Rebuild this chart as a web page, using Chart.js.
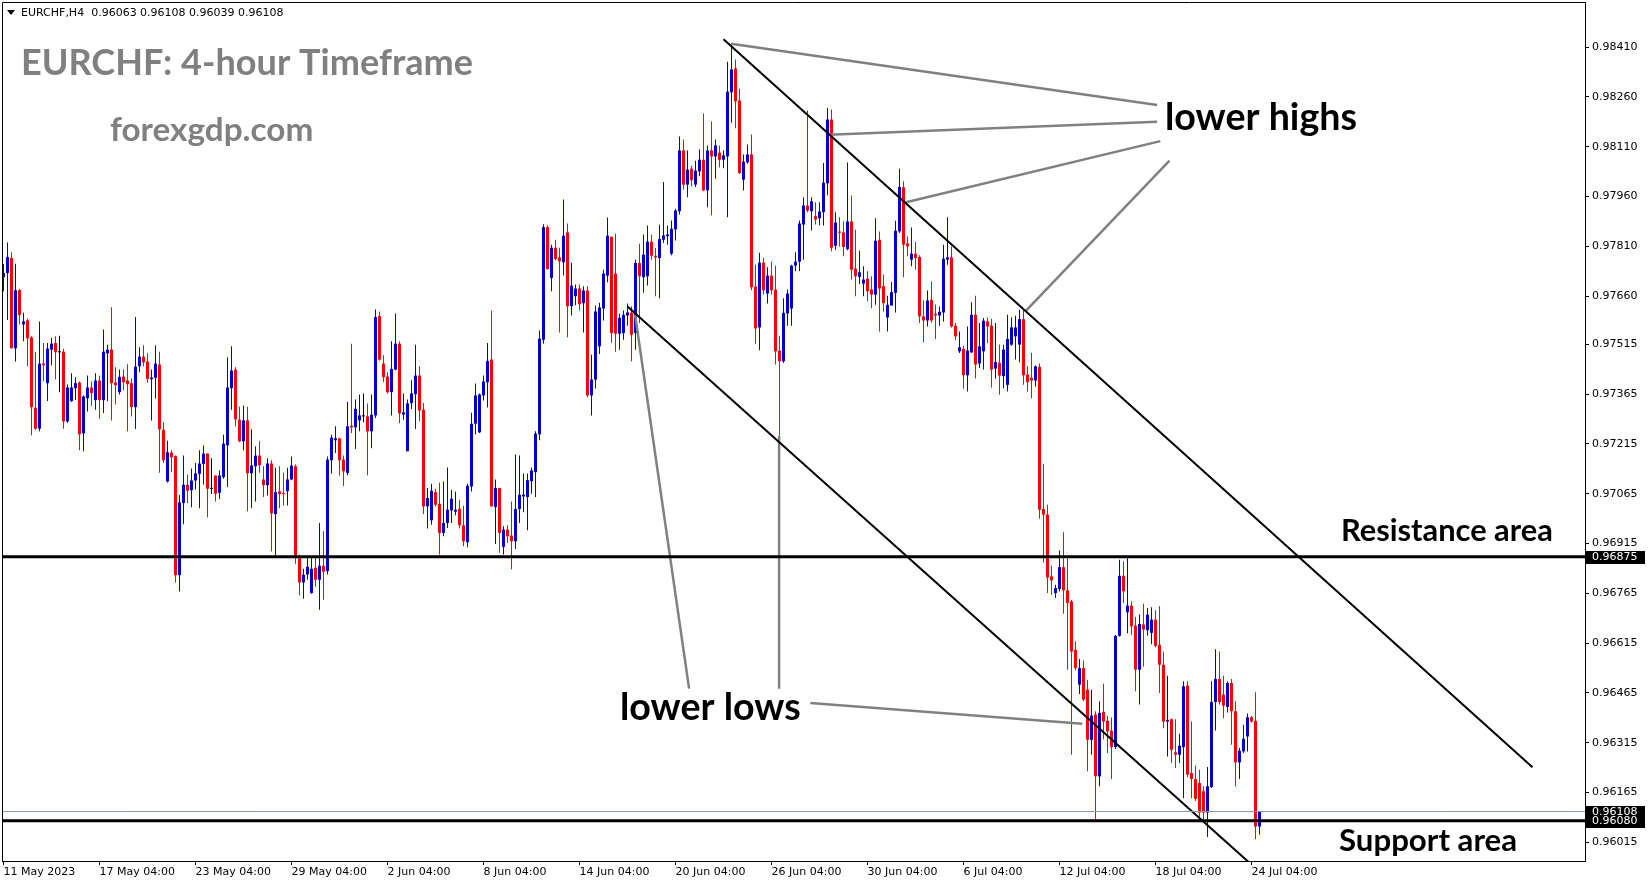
<!DOCTYPE html>
<html lang="en">
<head>
<meta charset="UTF-8">
<title>EURCHF H4</title>
<script src="https://cdn.jsdelivr.net/npm/chart.js"></script>
<style>
  html, body { margin: 0; padding: 0; background: #fff; }
  canvas { display: block; }
</style>
</head>
<body>
<canvas id="eurchf" width="1649" height="884"></canvas>
<script>
// H4 candles, one per bar index (bar 0 = 11 May 2023 04:00)
const opens = [
  0.97717,0.97730,0.97775,0.97503,0.97678,0.97575,0.97587,0.97536,0.97324,0.97261,
  0.97457,0.97398,0.97499,0.97519,0.97491,0.97493,0.97283,0.97344,0.97383,0.97400,
  0.97247,0.97353,0.97385,0.97347,0.97406,0.97347,0.97488,0.97499,0.97400,0.97371,
  0.97418,0.97406,0.97398,0.97326,0.97449,0.97478,0.97463,0.97410,0.97414,0.97454,
  0.97258,0.97102,0.97189,0.97178,0.96820,0.97037,0.97092,0.97076,0.97105,0.97125,
  0.97155,0.97186,0.97080,0.97120,0.97068,0.97115,0.97211,0.97383,0.97439,0.97288,
  0.97223,0.97286,0.97127,0.97148,0.97180,0.97108,0.97091,0.97156,0.97004,0.97072,
  0.97067,0.97073,0.97108,0.97148,0.96871,0.96798,0.96822,0.96766,0.96842,0.96806,
  0.96848,0.96832,0.97166,0.97226,0.97232,0.97168,0.97128,0.97270,0.97265,0.97286,
  0.97298,0.97298,0.97253,0.97301,0.97600,0.97457,0.97418,0.97371,0.97439,0.97517,
  0.97304,0.97193,0.97338,0.97365,0.97421,0.97318,0.97027,0.96985,0.97070,0.97035,
  0.96947,0.96977,0.97015,0.97011,0.97020,0.96970,0.96919,0.97087,0.97276,0.97250,
  0.97361,0.97401,0.97469,0.97025,0.97082,0.96905,0.96957,0.96939,0.96922,0.97019,
  0.97057,0.97055,0.97103,0.97130,0.97244,0.97529,0.97868,0.97715,0.97806,0.97777,
  0.97762,0.97852,0.97630,0.97660,0.97683,0.97639,0.97677,0.97361,0.97409,0.97509,
  0.97623,0.97722,0.97839,0.97728,0.97547,0.97549,0.97602,0.97610,0.97549,0.97760,
  0.97717,0.97720,0.97824,0.97782,0.97775,0.97830,0.97841,0.97788,0.97861,0.97916,
  0.98099,0.97996,0.98044,0.97996,0.98036,0.98071,0.97979,0.98099,0.98081,0.98092,
  0.98071,0.98081,0.98274,0.98346,0.98249,0.98011,0.98063,0.98087,0.97689,0.97566,
  0.97761,0.97668,0.97722,0.97680,0.97496,0.97464,0.97608,0.97623,0.97752,0.97764,
  0.97876,0.97933,0.97916,0.97901,0.97895,0.97913,0.98000,0.98192,0.97812,0.97855,
  0.97852,0.97802,0.97885,0.97743,0.97718,0.97698,0.97713,0.97680,0.97665,0.97830,
  0.97690,0.97596,0.97632,0.97670,0.97855,0.97988,0.97819,0.97770,0.97788,0.97778,
  0.97599,0.97587,0.97649,0.97607,0.97602,0.97611,0.97770,0.97777,0.97571,0.97494,
  0.97501,0.97422,0.97491,0.97604,0.97457,0.97494,0.97584,0.97571,0.97442,0.97459,
  0.97419,0.97393,0.97514,0.97539,0.97514,0.97591,0.97424,0.97414,0.97406,0.97447,
  0.97019,0.97002,0.96816,0.96766,0.96778,0.96844,0.96774,0.96741,0.96595,0.96490,
  0.96540,0.96475,0.96324,0.96400,0.96214,0.96408,0.96381,0.96351,0.96302,0.96637,
  0.96818,0.96708,0.96728,0.96668,0.96535,0.96671,0.96654,0.96646,0.96686,0.96610,
  0.96550,0.96379,0.96386,0.96286,0.96279,0.96302,0.96487,0.96224,0.96206,0.96194,
  0.96169,0.96105,0.96182,0.96438,0.96507,0.96460,0.96423,0.96495,0.96410,0.96256,
  0.96289,0.96334,0.96392,0.96381,0.96063
];
const highs = [
  0.97757,0.97822,0.97792,0.97758,0.97682,0.97610,0.97593,0.97539,0.97492,0.97584,
  0.97519,0.97519,0.97534,0.97539,0.97541,0.97502,0.97394,0.97428,0.97416,0.97403,
  0.97361,0.97421,0.97403,0.97428,0.97421,0.97560,0.97514,0.97627,0.97446,0.97439,
  0.97439,0.97455,0.97412,0.97597,0.97506,0.97512,0.97488,0.97439,0.97512,0.97493,
  0.97280,0.97225,0.97196,0.97180,0.97061,0.97180,0.97123,0.97141,0.97158,0.97196,
  0.97210,0.97186,0.97172,0.97120,0.97135,0.97243,0.97476,0.97509,0.97446,0.97327,
  0.97331,0.97327,0.97259,0.97207,0.97223,0.97148,0.97172,0.97166,0.97143,0.97148,
  0.97128,0.97143,0.97177,0.97153,0.96882,0.96839,0.96874,0.96874,0.96874,0.96977,
  0.96952,0.97177,0.97243,0.97268,0.97234,0.97180,0.97341,0.97517,0.97349,0.97364,
  0.97367,0.97337,0.97364,0.97620,0.97614,0.97482,0.97431,0.97524,0.97608,0.97524,
  0.97367,0.97349,0.97407,0.97514,0.97449,0.97338,0.97082,0.97095,0.97080,0.97098,
  0.97102,0.97144,0.97077,0.97071,0.97047,0.97029,0.97095,0.97309,0.97397,0.97367,
  0.97421,0.97519,0.97617,0.97108,0.97082,0.96967,0.96970,0.97042,0.97183,0.97180,
  0.97126,0.97126,0.97144,0.97253,0.97557,0.97877,0.97874,0.97815,0.97830,0.97806,
  0.97951,0.97879,0.97761,0.97695,0.97695,0.97690,0.97690,0.97484,0.97632,0.97640,
  0.97740,0.97897,0.97839,0.97848,0.97607,0.97617,0.97638,0.97630,0.97770,0.97818,
  0.97846,0.97873,0.97846,0.97805,0.97875,0.98004,0.97873,0.97888,0.97923,0.98141,
  0.98132,0.98099,0.98053,0.98068,0.98102,0.98210,0.98114,0.98186,0.98132,0.98114,
  0.98099,0.98366,0.98418,0.98373,0.98285,0.98087,0.98117,0.98147,0.97755,0.97791,
  0.97776,0.97747,0.97764,0.97752,0.97541,0.97654,0.97680,0.97755,0.97792,0.97888,
  0.97958,0.98219,0.97958,0.97943,0.97943,0.98061,0.98227,0.98222,0.97913,0.97898,
  0.97885,0.98063,0.97963,0.97860,0.97797,0.97750,0.97735,0.97720,0.97895,0.97855,
  0.97725,0.97661,0.97703,0.97887,0.98044,0.98006,0.97840,0.97867,0.97823,0.97783,
  0.97647,0.97677,0.97704,0.97634,0.97629,0.97815,0.97898,0.97810,0.97579,0.97554,
  0.97511,0.97569,0.97642,0.97661,0.97579,0.97594,0.97596,0.97591,0.97579,0.97514,
  0.97514,0.97604,0.97596,0.97601,0.97619,0.97619,0.97449,0.97489,0.97451,0.97457,
  0.97155,0.97032,0.96848,0.96791,0.96894,0.96949,0.96876,0.96745,0.96620,0.96567,
  0.96563,0.96505,0.96475,0.96410,0.96440,0.96493,0.96396,0.96391,0.96640,0.96866,
  0.96861,0.96874,0.96741,0.96694,0.96701,0.96734,0.96721,0.96723,0.96714,0.96726,
  0.96590,0.96517,0.96388,0.96386,0.96342,0.96500,0.96500,0.96379,0.96246,0.96234,
  0.96184,0.96242,0.96500,0.96597,0.96590,0.96517,0.96500,0.96507,0.96440,0.96299,
  0.96369,0.96403,0.96396,0.96467,0.96108
];
const lows = [
  0.97675,0.97588,0.97503,0.97463,0.97575,0.97524,0.97449,0.97241,0.97258,0.97253,
  0.97404,0.97344,0.97452,0.97409,0.97371,0.97261,0.97278,0.97341,0.97347,0.97196,
  0.97193,0.97313,0.97329,0.97318,0.97292,0.97308,0.97344,0.97286,0.97334,0.97364,
  0.97377,0.97253,0.97298,0.97260,0.97431,0.97449,0.97399,0.97286,0.97352,0.97128,
  0.97158,0.97099,0.97130,0.96798,0.96771,0.96973,0.97037,0.97024,0.97078,0.97021,
  0.97093,0.96994,0.97064,0.97042,0.97049,0.97110,0.97085,0.97318,0.97268,0.97220,
  0.97196,0.97012,0.97021,0.97042,0.97128,0.97055,0.97060,0.96892,0.96879,0.97021,
  0.97030,0.97030,0.97106,0.96854,0.96759,0.96749,0.96806,0.96764,0.96786,0.96716,
  0.96746,0.96822,0.97126,0.97188,0.97120,0.97088,0.97121,0.97248,0.97200,0.97253,
  0.97280,0.97121,0.97202,0.97293,0.97466,0.97401,0.97367,0.97301,0.97437,0.97278,
  0.97288,0.97193,0.97320,0.97260,0.97283,0.97004,0.96960,0.96972,0.97027,0.96882,
  0.96937,0.96962,0.96977,0.97000,0.96960,0.96907,0.96904,0.97072,0.97244,0.97248,
  0.97346,0.97325,0.97027,0.96914,0.96887,0.96882,0.96917,0.96838,0.96899,0.96977,
  0.97009,0.96955,0.97065,0.97055,0.97226,0.97517,0.97740,0.97675,0.97768,0.97551,
  0.97722,0.97536,0.97602,0.97633,0.97618,0.97551,0.97356,0.97301,0.97382,0.97486,
  0.97587,0.97702,0.97520,0.97493,0.97499,0.97529,0.97571,0.97464,0.97499,0.97579,
  0.97670,0.97692,0.97770,0.97660,0.97654,0.97820,0.97815,0.97783,0.97828,0.97906,
  0.97981,0.97958,0.97991,0.97989,0.98021,0.97976,0.97928,0.97904,0.98014,0.98048,
  0.98045,0.97898,0.98182,0.98166,0.98028,0.97978,0.98059,0.97678,0.97517,0.97497,
  0.97665,0.97638,0.97665,0.97454,0.97240,0.97459,0.97571,0.97571,0.97735,0.97735,
  0.97770,0.97913,0.97858,0.97876,0.97873,0.97873,0.97964,0.97795,0.97800,0.97810,
  0.97780,0.97798,0.97710,0.97660,0.97697,0.97660,0.97645,0.97624,0.97634,0.97554,
  0.97614,0.97554,0.97631,0.97611,0.97850,0.97717,0.97780,0.97750,0.97740,0.97579,
  0.97521,0.97569,0.97581,0.97531,0.97571,0.97584,0.97755,0.97566,0.97527,0.97489,
  0.97381,0.97373,0.97489,0.97412,0.97444,0.97439,0.97519,0.97385,0.97411,0.97363,
  0.97383,0.97373,0.97511,0.97469,0.97461,0.97393,0.97373,0.97353,0.97388,0.96990,
  0.96858,0.96766,0.96761,0.96751,0.96771,0.96704,0.96535,0.96279,0.96533,0.96462,
  0.96440,0.96229,0.96279,0.96083,0.96184,0.96326,0.96284,0.96206,0.96296,0.96635,
  0.96736,0.96645,0.96640,0.96470,0.96430,0.96545,0.96637,0.96612,0.96603,0.96465,
  0.96359,0.96274,0.96254,0.96239,0.96254,0.96148,0.96212,0.96148,0.96140,0.96078,
  0.96083,0.96031,0.96179,0.96352,0.96430,0.96389,0.96406,0.96309,0.96184,0.96206,
  0.96284,0.96289,0.96376,0.96025,0.96039
];
const closes = [
  0.97730,0.97778,0.97503,0.97678,0.97603,0.97584,0.97533,0.97326,0.97261,0.97457,
  0.97452,0.97502,0.97517,0.97491,0.97491,0.97283,0.97385,0.97385,0.97398,0.97244,
  0.97358,0.97385,0.97368,0.97406,0.97347,0.97493,0.97499,0.97398,0.97392,0.97417,
  0.97401,0.97395,0.97326,0.97448,0.97478,0.97461,0.97411,0.97415,0.97457,0.97259,
  0.97166,0.97190,0.97175,0.96820,0.97039,0.97092,0.97074,0.97105,0.97126,0.97156,
  0.97186,0.97080,0.97080,0.97065,0.97120,0.97216,0.97385,0.97436,0.97289,0.97223,
  0.97286,0.97127,0.97150,0.97180,0.97151,0.97091,0.97156,0.97006,0.97070,0.97064,
  0.97064,0.97108,0.97150,0.96871,0.96798,0.96821,0.96845,0.96839,0.96806,0.96848,
  0.96830,0.97168,0.97234,0.97232,0.97166,0.97133,0.97268,0.97265,0.97321,0.97301,
  0.97298,0.97253,0.97303,0.97597,0.97469,0.97416,0.97371,0.97441,0.97517,0.97307,
  0.97310,0.97337,0.97367,0.97421,0.97316,0.97027,0.97052,0.97074,0.97032,0.96947,
  0.96977,0.97017,0.97050,0.97017,0.96970,0.96922,0.97089,0.97276,0.97361,0.97364,
  0.97403,0.97465,0.97027,0.97082,0.96947,0.96957,0.96937,0.96922,0.97019,0.97062,
  0.97062,0.97106,0.97135,0.97246,0.97532,0.97868,0.97742,0.97806,0.97772,0.97765,
  0.97842,0.97630,0.97692,0.97683,0.97636,0.97677,0.97361,0.97409,0.97614,0.97626,
  0.97728,0.97842,0.97549,0.97547,0.97595,0.97604,0.97611,0.97544,0.97760,0.97720,
  0.97785,0.97824,0.97782,0.97777,0.97832,0.97843,0.97846,0.97863,0.97918,0.98099,
  0.97996,0.98041,0.98009,0.98038,0.98071,0.97979,0.98099,0.98081,0.98114,0.98071,
  0.98084,0.98276,0.98343,0.98247,0.98031,0.98065,0.98087,0.97687,0.97563,0.97761,
  0.97678,0.97722,0.97678,0.97494,0.97464,0.97610,0.97668,0.97752,0.97764,0.97879,
  0.97933,0.97918,0.97946,0.97891,0.97915,0.98002,0.98192,0.97806,0.97882,0.97851,
  0.97808,0.97885,0.97740,0.97720,0.97732,0.97710,0.97675,0.97665,0.97827,0.97683,
  0.97639,0.97634,0.97672,0.97857,0.97989,0.97815,0.97810,0.97788,0.97775,0.97599,
  0.97587,0.97647,0.97587,0.97602,0.97613,0.97773,0.97777,0.97569,0.97539,0.97506,
  0.97422,0.97496,0.97604,0.97454,0.97509,0.97586,0.97569,0.97439,0.97462,0.97421,
  0.97499,0.97531,0.97566,0.97566,0.97591,0.97422,0.97401,0.97406,0.97449,0.97017,
  0.97002,0.96813,0.96804,0.96781,0.96844,0.96774,0.96736,0.96590,0.96540,0.96540,
  0.96445,0.96324,0.96397,0.96214,0.96405,0.96379,0.96349,0.96302,0.96637,0.96818,
  0.96771,0.96728,0.96666,0.96535,0.96673,0.96656,0.96701,0.96686,0.96607,0.96550,
  0.96379,0.96384,0.96294,0.96279,0.96306,0.96485,0.96219,0.96206,0.96146,0.96105,
  0.96105,0.96184,0.96438,0.96507,0.96438,0.96427,0.96495,0.96410,0.96256,0.96291,
  0.96327,0.96392,0.96379,0.96063,0.96108
];

// time axis: bar index of each label
const tickBars = [0, 24, 48, 72, 96, 120, 144, 168, 192, 216, 240, 264, 288, 312];
const tickLabels = ['11 May 2023', '17 May 04:00', '23 May 04:00', '29 May 04:00', '2 Jun 04:00',
  '8 Jun 04:00', '14 Jun 04:00', '20 Jun 04:00', '26 Jun 04:00', '30 Jun 04:00',
  '6 Jul 04:00', '12 Jul 04:00', '18 Jul 04:00', '24 Jul 04:00'];
const priceTicks = [0.98410, 0.98260, 0.98110, 0.97960, 0.97810, 0.97660, 0.97515, 0.97365,
  0.97215, 0.97065, 0.96915, 0.96765, 0.96615, 0.96465, 0.96315, 0.96165, 0.96015];

const resistanceLevel = 0.96875;
const supportLevel = 0.96080;
const bidPrice = 0.96108;
const markedPrices = [resistanceLevel, bidPrice, supportLevel];

// drawn trend lines, [bar, price] end points
const upperChannel = [[180.0, 0.98434], [382.25, 0.96241]];
const lowerChannel = [[156.0, 0.97629], [320.0, 0.95862]];
const pointerLines = [
  [[181.9, 0.98420], [288.4, 0.98236]],
  [[206.4, 0.98146], [288.4, 0.98185]],
  [[225.4, 0.97942], [289.2, 0.98127]],
  [[255.7, 0.97617], [291.5, 0.98068]],
  [[157.9, 0.97604], [171.4, 0.96478]],
  [[193.9, 0.97239], [193.9, 0.96478]],
  [[201.7, 0.96435], [269.7, 0.96372]]
];

const xMin = -0.375, xMax = 395.375;
const UP = '#0000d0', DOWN = '#ff0000', FLAT = '#000000';

const candleColors = opens.map((o, i) => closes[i] > o ? UP : (closes[i] < o ? DOWN : FLAT));

function lineSet(points, color, width) {
  return {
    type: 'line',
    data: points.map(p => ({ x: p[0], y: p[1] })),
    borderColor: color,
    borderWidth: width,
    pointRadius: 0,
    tension: 0,
    order: 0
  };
}

function fitText(ctx, text, x, y, width, color) {
  ctx.font = 'bold 40px Lato';
  const size = 40 * width / ctx.measureText(text).width;
  ctx.font = 'bold ' + size.toFixed(1) + 'px Lato';
  ctx.fillStyle = color;
  ctx.textAlign = 'left';
  ctx.textBaseline = 'alphabetic';
  ctx.fillText(text, x, y);
}

const overlay = {
  id: 'overlay',
  afterDraw(chart) {
    const { ctx, chartArea: a, scales: { y } } = chart;
    ctx.save();
    // frame: top and left edges
    ctx.strokeStyle = '#000';
    ctx.lineWidth = 1;
    ctx.beginPath();
    ctx.moveTo(a.left + 0.5, a.bottom);
    ctx.lineTo(a.left + 0.5, a.top + 0.5);
    ctx.lineTo(a.right, a.top + 0.5);
    ctx.stroke();

    // header line
    ctx.fillStyle = '#000';
    ctx.beginPath();
    ctx.moveTo(7, 10); ctx.lineTo(15, 10); ctx.lineTo(11, 15);
    ctx.closePath();
    ctx.fill();
    ctx.font = '11px "DejaVu Sans"';
    ctx.textBaseline = 'alphabetic';
    ctx.fillText('EURCHF,H4  0.96063 0.96108 0.96039 0.96108', 21, 16);

    // texts
    fitText(ctx, 'EURCHF: 4-hour Timeframe', 21, 75, 452, '#808080');
    fitText(ctx, 'forexgdp.com', 110, 141, 203, '#808080');
    fitText(ctx, 'lower highs', 1165, 130, 192, '#000');
    fitText(ctx, 'lower lows', 620, 720, 181, '#000');
    fitText(ctx, 'Resistance area', 1341, 541, 212, '#000');
    fitText(ctx, 'Support area', 1339, 851, 178, '#000');

    // price boxes on the axis
    ctx.font = '11px "DejaVu Sans"';
    ctx.textBaseline = 'middle';
    markedPrices.forEach(p => {
      const py = Math.round(y.getPixelForValue(p));
      ctx.fillStyle = '#000';
      ctx.fillRect(a.right + 1, py - 6, 59, 13);
      ctx.fillStyle = '#fff';
      ctx.fillText(p.toFixed(5), 1592, py + 0.5);
    });
    ctx.restore();
  }
};

const axisFont = { family: 'DejaVu Sans', size: 11 };

new Chart(document.getElementById('eurchf'), {
  type: 'bar',
  data: {
    datasets: [
      {
        data: lows.map((l, i) => ({ x: i, y: [l, highs[i]] })),
        backgroundColor: candleColors,
        barThickness: 1,
        grouped: false,
        inflateAmount: 0,
        order: 2
      },
      {
        data: opens.map((o, i) => ({ x: i, y: [o, closes[i]] })),
        backgroundColor: candleColors,
        barThickness: 3,
        minBarLength: 1,
        grouped: false,
        inflateAmount: 0,
        order: 1
      },
      lineSet([[xMin, bidPrice], [xMax, bidPrice]], '#8899aa', 1),
      lineSet([[xMin, resistanceLevel], [xMax, resistanceLevel]], '#000', 3),
      lineSet([[xMin, supportLevel], [xMax, supportLevel]], '#000', 3),
      lineSet(upperChannel, '#000', 2),
      lineSet(lowerChannel, '#000', 2),
      ...pointerLines.map(seg => lineSet(seg, '#808080', 2.5))
    ]
  },
  options: {
    responsive: false,
    animation: false,
    layout: { padding: { left: 2, top: 2, right: 0, bottom: 0 } },
    plugins: { legend: { display: false }, tooltip: { enabled: false } },
    scales: {
      x: {
        type: 'linear',
        min: xMin,
        max: xMax,
        offset: false,
        grid: { display: true, drawOnChartArea: false, tickLength: 4, color: '#000', offset: false },
        border: { display: true, color: '#000', width: 1 },
        ticks: {
          align: 'start', maxRotation: 0, autoSkip: false, padding: 1,
          color: '#000', font: axisFont,
          callback: (v, i) => tickLabels[i]
        },
        afterBuildTicks: s => { s.ticks = tickBars.map(v => ({ value: v })); },
        afterFit: s => { s.height = 23; s.paddingLeft = 0; s.paddingRight = 0; }
      },
      y: {
        position: 'right',
        min: 0.95959,
        max: 0.98546,
        beginAtZero: false,
        grid: { display: true, drawOnChartArea: false, tickLength: 4, color: '#000' },
        border: { display: true, color: '#000', width: 1 },
        ticks: { padding: 3, color: '#000', font: axisFont, callback: v => v.toFixed(5) },
        afterBuildTicks: s => { s.ticks = priceTicks.map(v => ({ value: v })); },
        afterFit: s => { s.width = 64; s.paddingTop = 0; s.paddingBottom = 0; }
      }
    }
  },
  plugins: [overlay]
});
</script>
</body>
</html>
